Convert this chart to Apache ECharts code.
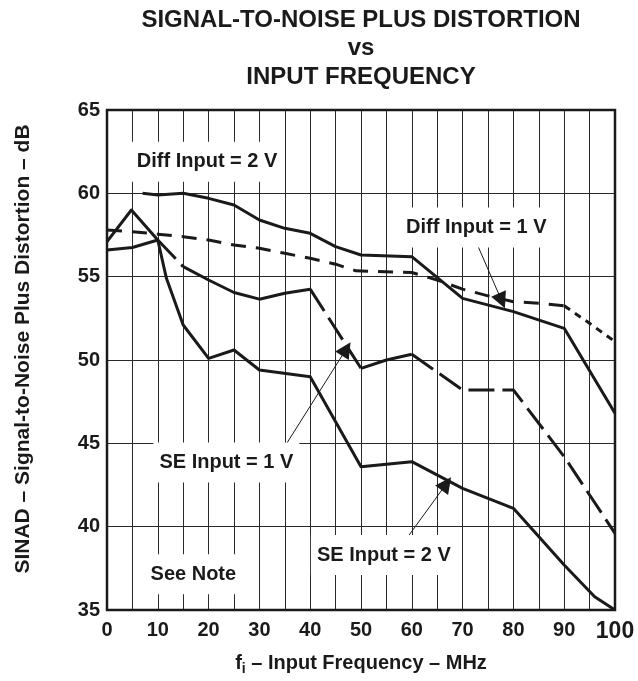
<!DOCTYPE html>
<html><head><meta charset="utf-8">
<script src="https://cdn.jsdelivr.net/npm/echarts@6/dist/echarts.min.js"></script>
<style>html,body{margin:0;padding:0;background:#fff}#c{width:638px;height:681px}</style>
</head><body><div id="c"></div><script>
// ---- data (MHz, dB) ----
const frequencyTicks = [0,10,20,30,40,50,60,70,80,90,100];
const sinadTicks = [35,40,45,50,55,60,65];
const diffInput2V = [[7,60.0],[10,59.9],[15,60.0],[20,59.7],[25,59.3],[30,58.4],[35,57.9],[40,57.6],[45,56.8],[50,56.3],[60,56.2],[70,53.7],[80,52.9],[90,51.9],[100,46.8]];
const diffInput1V = [[0,57.8],[5,57.7],[10,57.55],[15,57.4],[20,57.2],[25,56.9],[30,56.7],[35,56.4],[40,56.1],[45,55.75],[49,55.35],[60,55.25],[65,54.8],[70,54.25],[75,53.85],[80,53.5],[85,53.4],[90,53.25],[95,52.2],[100,51.1]];
const seInput1V = [[0,56.6],[5,56.75],[10,57.2],[15,55.6],[20,54.8],[25,54.05],[30,53.65],[35,54.0],[40,54.25],[50,49.5],[55,50.0],[60,50.35],[70,48.2],[80,48.2],[90,44.2],[100,39.6]];
const seInput2V = [[0,57.1],[4.8,59.0],[10,57.2],[11.7,54.9],[15,52.1],[20,50.1],[25,50.6],[30,49.4],[40,49.0],[50,43.6],[60,43.9],[70,42.3],[80,41.1],[90,37.7],[96,35.8],[100,35.0]];
const annotationTexts = ['Diff Input = 2 V','Diff Input = 1 V','SE Input = 1 V','SE Input = 2 V','See Note'];
const annotationAnchors = [[19.7,61.9],[72.7,57.95],[23.5,43.85],[54.5,38.3],[17.0,37.15]];
const arrowStarts = [[73.0,56.85],[35.3,44.96],[59.0,39.3]];
const arrowTips = [[77.7,53.55],[47.1,50.66],[66.8,42.57]];

const ink = '#1a1a1a';
const font = '"Liberation Sans", Arial, Helvetica, sans-serif';
const pick = (d, lo, hi) => d.filter(p => p[0] >= lo && p[0] <= hi);
function seg(name, data, type) {
  return {
    name, type: 'line', data, symbol: 'none', silent: true, z: 3,
    lineStyle: { color: ink, width: 3, type: type || 'solid', join: 'round' }
  };
}
const LONG = [26, 8], MED = [15, 10], SHORT = [7, 6];

const series = [
  seg('Diff Input = 2 V', diffInput2V),
  seg('Diff Input = 1 V', pick(diffInput1V, 0, 90), MED),
  seg('Diff Input = 1 V', pick(diffInput1V, 90, 100), SHORT),
  seg('SE Input = 1 V', pick(seInput1V, 0, 10)),
  seg('SE Input = 1 V', pick(seInput1V, 10, 15), LONG),
  seg('SE Input = 1 V', pick(seInput1V, 15, 40)),
  seg('SE Input = 1 V', pick(seInput1V, 40, 50), LONG),
  seg('SE Input = 1 V', pick(seInput1V, 50, 60)),
  seg('SE Input = 1 V', pick(seInput1V, 60, 100), LONG),
  seg('SE Input = 2 V', seInput2V),
  {
    name: 'annotations', type: 'line', data: [], z: 5, silent: true,
    markLine: {
      silent: true, animation: false,
      symbol: ['none', 'triangle'], symbolSize: 16,
      lineStyle: { color: ink, width: 1, type: 'solid' },
      label: { show: false },
      emphasis: { disabled: true },
      data: arrowStarts.map((s, i) => [{ coord: s }, { coord: arrowTips[i] }])
    },
    markPoint: {
      silent: true, animation: false, symbol: 'circle', symbolSize: 0,
      label: {
        show: true, position: 'inside', color: ink, fontSize: 20, fontWeight: 'bold',
        fontFamily: font, backgroundColor: '#fff', padding: [10, 6]
      },
      data: annotationTexts.map((t, i) => ({ coord: annotationAnchors[i], value: t, label: { formatter: t } }))
    }
  }
];

const chart = echarts.init(document.getElementById('c'), null, { renderer: 'canvas' });
chart.setOption({
  animation: false,
  backgroundColor: '#fff',
  title: {
    text: 'SIGNAL-TO-NOISE PLUS DISTORTION\nvs\nINPUT FREQUENCY',
    left: 356, top: 1, textAlign: 'center',
    textStyle: { fontSize: 24, fontWeight: 'bold', lineHeight: 28.5, color: ink, fontFamily: font }
  },
  grid: { left: 107, right: 23, top: 110, bottom: 67, show: true, borderColor: ink, borderWidth: 2.5, backgroundColor: 'transparent', z: 4 },
  xAxis: {
    type: 'value', min: 0, max: 100, interval: 5,
    axisLine: { show: false }, axisTick: { show: false },
    splitLine: { show: true, lineStyle: { color: '#2a2a2a', width: 1 } },
    axisLabel: {
      margin: 10, fontSize: 20, fontWeight: 'bold', color: ink, fontFamily: font,
      formatter: v => frequencyTicks.includes(v) ? (v === 100 ? '{big|100}' : String(v)) : '',
      rich: { big: { fontSize: 23, fontWeight: 'bold', color: ink, fontFamily: font } }
    },
    name: 'f{sub|i} – Input Frequency – MHz', nameLocation: 'middle', nameGap: 40,
    nameTextStyle: {
      fontSize: 20, fontWeight: 'bold', color: ink, fontFamily: font,
      rich: { sub: { fontSize: 14, fontWeight: 'bold', color: ink, fontFamily: font, verticalAlign: 'bottom', padding: [12, 0, 0, 0] } }
    }
  },
  yAxis: {
    type: 'value', min: 35, max: 65, interval: 5,
    axisLine: { show: false }, axisTick: { show: false },
    splitLine: { show: true, lineStyle: { color: '#2a2a2a', width: 1 } },
    axisLabel: {
      margin: 7, fontSize: 20, fontWeight: 'bold', color: ink, fontFamily: font,
      formatter: v => sinadTicks.includes(v) ? String(v) : ''
    },
    name: 'SINAD – Signal-to-Noise Plus Distortion – dB', nameLocation: 'middle', nameGap: 73, nameRotate: 90,
    nameTextStyle: { fontSize: 21, fontWeight: 'bold', color: ink, fontFamily: font, padding: [0, 0, 0, 22] }
  },
  series
});
</script></body></html>
